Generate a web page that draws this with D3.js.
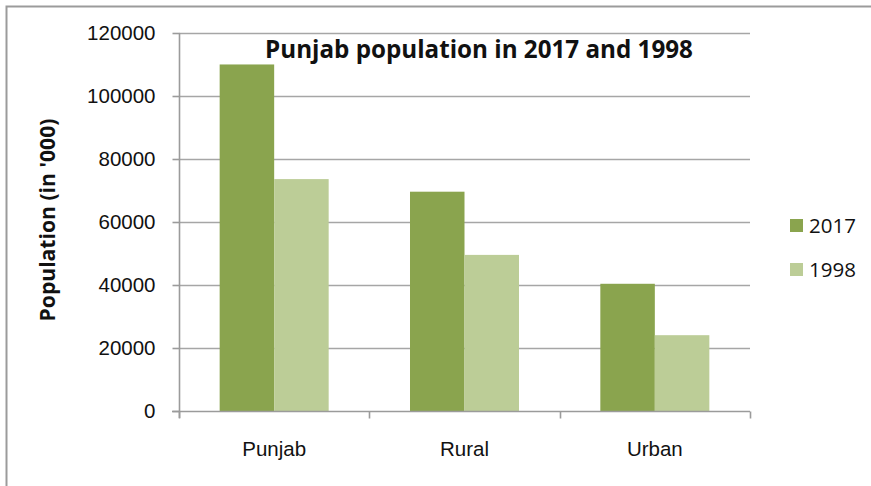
<!DOCTYPE html>
<html>
<head>
<meta charset="utf-8">
<script src="https://cdn.jsdelivr.net/npm/d3@7"></script>
<style>
  html, body { margin: 0; padding: 0; background: #ffffff; }
  svg { display: block; font-family: "Open Sans", "DejaVu Sans", sans-serif; }
</style>
</head>
<body>
<svg id="chart" width="871" height="486"></svg>
<script>
// Population of Punjab (thousands), census 2017 vs 1998
const categories = ["Punjab", "Rural", "Urban"];
const seriesNames = ["2017", "1998"];
const values2017 = [110012, 69619, 40387];
const values1998 = [73621, 49560, 24067];
const yTicks = [0, 20000, 40000, 60000, 80000, 100000, 120000];
const colors = { "2017": "#8aa44e", "1998": "#bccd97" };
const titleText = "Punjab population in 2017 and 1998";
const yTitleText = "Population (in '000)";

const rows = categories.map((c, i) => ({ category: c, "2017": values2017[i], "1998": values1998[i] }));

const svg = d3.select("#chart");
const plot = { left: 179, right: 750, top: 33, bottom: 411 };
const labelSize = "20.5px";

// Outer frame (right and bottom edges fall outside the view)
svg.append("rect")
  .attr("x", 6.5).attr("y", 6.5)
  .attr("width", 900).attr("height", 500)
  .attr("fill", "none").attr("stroke", "#9b9b9b").attr("stroke-width", 2);

const y = d3.scaleLinear().domain([0, 120000]).range([plot.bottom, plot.top]);
const x0 = d3.scaleBand().domain(categories).range([plot.left, plot.right]).paddingInner(0).paddingOuter(0);
const x1 = d3.scaleBand().domain(seriesNames).range([0, x0.bandwidth()]).paddingInner(0).paddingOuter(0.746);

// Horizontal gridlines
svg.append("g").selectAll("line")
  .data(yTicks.filter(t => t > 0))
  .join("line")
  .attr("x1", plot.left).attr("x2", plot.right)
  .attr("y1", d => Math.round(y(d)) + 0.5).attr("y2", d => Math.round(y(d)) + 0.5)
  .attr("stroke", "#a6a6a6").attr("stroke-width", 1.6);

// Bars
const groups = svg.append("g").selectAll("g")
  .data(rows)
  .join("g")
  .attr("transform", d => `translate(${x0(d.category)},0)`);

groups.selectAll("rect")
  .data(d => seriesNames.map(s => ({ key: s, value: d[s] })))
  .join("rect")
  .attr("x", d => x1(d.key))
  .attr("width", x1.bandwidth())
  .attr("y", d => y(d.value))
  .attr("height", d => y(0) - y(d.value))
  .attr("fill", d => colors[d.key]);

// Y axis
const yAxis = svg.append("g")
  .attr("transform", `translate(${plot.left + 0.5},0)`)
  .call(d3.axisLeft(y).tickValues(yTicks).tickFormat(d3.format("d")).tickSize(7).tickPadding(17));
yAxis.select(".domain").attr("stroke", "#9b9b9b").attr("stroke-width", 1.6)
  .attr("d", `M0,${plot.top}V${plot.bottom + 7}`);
yAxis.selectAll(".tick line").attr("stroke", "#9b9b9b").attr("stroke-width", 1.6);
yAxis.selectAll(".tick text").attr("fill", "#111111").style("font-size", labelSize);

// X axis: labels centred on categories, tick marks at category boundaries
const xAxis = svg.append("g")
  .attr("transform", `translate(0,${plot.bottom + 0.5})`)
  .call(d3.axisBottom(x0).tickSize(0).tickPadding(30));
xAxis.select(".domain").attr("stroke", "#9b9b9b").attr("stroke-width", 1.6)
  .attr("d", `M${plot.left - 7},0H${plot.right}`);
xAxis.selectAll(".tick text").attr("fill", "#111111").style("font-size", labelSize);
xAxis.append("g").selectAll("line")
  .data(categories.map(c => x0(c)).concat([plot.right]))
  .join("line")
  .attr("x1", d => Math.round(d) + 0.5).attr("x2", d => Math.round(d) + 0.5)
  .attr("y1", 0).attr("y2", 7)
  .attr("stroke", "#9b9b9b").attr("stroke-width", 1.6);

// Fit a text element to a target width by scaling its font size
function fitWidth(sel, target, startSize) {
  sel.style("font-size", startSize + "px");
  const w = sel.node().getComputedTextLength();
  sel.style("font-size", (startSize * target / w).toFixed(2) + "px");
}

// Title
const title = svg.append("text")
  .attr("x", 479).attr("y", 58)
  .attr("text-anchor", "middle")
  .attr("font-weight", "bold")
  .attr("fill", "#111111")
  .text(titleText);
fitWidth(title, 428, 22);

// Y axis title
const yTitle = svg.append("text")
  .attr("transform", "translate(55,220) rotate(-90)")
  .attr("text-anchor", "middle")
  .attr("font-weight", "bold")
  .attr("fill", "#111111")
  .text(yTitleText);
fitWidth(yTitle, 203, 18);

// Legend
const legend = svg.append("g").selectAll("g")
  .data(seriesNames)
  .join("g")
  .attr("transform", (d, i) => `translate(790,${219 + i * 44})`);
legend.append("rect")
  .attr("width", 13).attr("height", 13)
  .attr("fill", d => colors[d]);
legend.append("text")
  .attr("x", 19).attr("y", 14)
  .attr("fill", "#111111")
  .style("font-size", "20.5px")
  .text(d => d);
</script>
</body>
</html>
